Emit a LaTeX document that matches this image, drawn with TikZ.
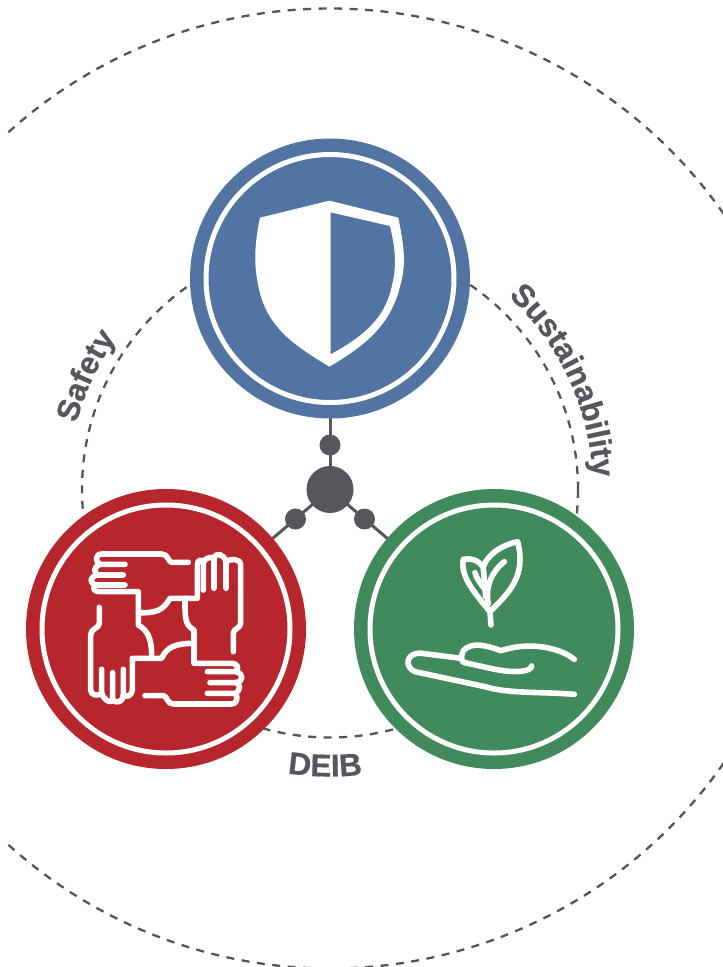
\documentclass[tikz,border=0pt]{standalone}
\usepackage{fontspec}
\setmainfont{Liberation Sans}[BoldFeatures={FakeBold=0.5}]
\usetikzlibrary{decorations.text}
\definecolor{bluec}{HTML}{5274A3}
\definecolor{redc}{HTML}{B8262D}
\definecolor{greenc}{HTML}{418A5C}
\definecolor{greyc}{HTML}{56565C}
\definecolor{dashc}{HTML}{555558}
\newcommand{\lblfont}{\fontsize{31.5}{32}\selectfont\bfseries\color{greyc}}
\tikzset{
  dashring/.style={draw=dashc,line width=2.3pt,dash pattern=on 8pt off 7.5pt},
  disc/.style={circle,minimum size=280pt,inner sep=0pt,outer sep=0pt},
  ringw/.style={draw=white,line width=5pt},
  hubdot/.style={circle,fill=greyc,inner sep=0pt,outer sep=0pt},
  link/.style={draw=greyc,line width=3pt},
  icon/.style={draw=white,line width=5.6pt,line cap=round,line join=round},
  lbl/.style={decorate,decoration={text along path,text align=center,text={#1}}}
}
\begin{document}
\begin{tikzpicture}[x=1pt,y=1pt]
\useasboundingbox (0,-967) rectangle (723,0);
\fill[white] (0,-967) rectangle (723,0);
\coordinate (c) at (330,-489.5);
\coordinate (co) at (330,-488.5);
% outer dashed circle
\draw[dashring] (co) ++(34.9:480) arc[start angle=34.9,end angle=132.5,radius=480];
\draw[dashring] (co) ++(-34.9:480) arc[start angle=-34.9,end angle=-132.5,radius=480];
% inner dashed circle
\draw[dashring] (c) circle[radius=248];
% nodes
\node[hubdot,minimum size=47pt] (hub) at (c) {};
\node[hubdot,minimum size=21pt] (d1) at (330,-445) {};
\node[hubdot,minimum size=21pt] (d2) at (295.5,-519) {};
\node[hubdot,minimum size=21pt] (d3) at (364.5,-519) {};
% connectors
\path (166,-629) coordinate (redc0) (494,-629) coordinate (greenc0) (330,-278.5) coordinate (bluec0);
\draw[link] (hub.center) -- (d1.center) -- (bluec0);
\draw[link] (hub.center) -- (d2.center) -- (redc0);
\draw[link] (hub.center) -- (d3.center) -- (greenc0);
\node[disc,fill=bluec] (blue) at (bluec0) {};
\node[disc,fill=redc] (red) at (redc0) {};
\node[disc,fill=greenc] (green) at (greenc0) {};
\draw[ringw] (blue) circle[radius=124];
\draw[ringw] (red) circle[radius=124];
\draw[ringw] (green) circle[radius=124];
% shield
\begin{scope}[shift={(240,-190)},x=0.3333pt,y=-0.3333pt]
\fill[white,even odd rule] (268,32) -- (475,83) .. controls (492,170) and (500,220) .. (480,290) .. controls (450,410) and (370,470) .. (268,530) .. controls (170,470) and (90,420) .. (60,310) .. controls (40,230) and (42,170) .. (60,83) -- cycle
 (272,67) -- (450,108) .. controls (470,190) and (470,240) .. (450,310) .. controls (425,395) and (360,445) .. (272,493) -- cycle;
\end{scope}
% four hands
\begin{scope}[shift={(70,-530)},x=0.3333pt,y=-0.3333pt]
% top-left
\draw[icon] (355,97) -- (305,97) .. controls (295,97) and (295,72) .. (275,72) -- (95,72) .. controls (75,72) and (75,95) .. (90,103) -- (165,103);
\draw[icon] (90,103) .. controls (70,110) and (70,130) .. (85,135) -- (160,135);
\draw[icon] (85,135) .. controls (58,138) and (55,160) .. (80,165) -- (165,165);
\draw[icon] (80,165) .. controls (65,172) and (70,185) .. (90,185) -- (205,185) -- (205,285) .. controls (230,300) and (245,320) .. (245,378);
% top-right
\draw[icon] (490,365) -- (490,310) .. controls (490,295) and (512,295) .. (512,280) -- (512,105) .. controls (512,85) and (480,85) .. (468,95) -- (468,175);
\draw[icon] (468,95) .. controls (462,72) and (438,65) .. (432,85) -- (432,175);
\draw[icon] (432,85) .. controls (425,78) and (403,85) .. (400,97) -- (400,180);
\draw[icon] (400,97) .. controls (395,85) and (382,90) .. (382,105) -- (382,205) -- (300,205) .. controls (280,240) and (260,250) .. (205,248);
% bottom-right
\draw[icon] (225,497) -- (280,497) .. controls (292,497) and (290,522) .. (310,522) -- (485,522) .. controls (500,522) and (505,505) .. (497,490) -- (412,490);
\draw[icon] (497,490) .. controls (515,475) and (510,462) .. (497,458) -- (420,458);
\draw[icon] (497,458) .. controls (522,455) and (522,430) .. (497,425) -- (412,425);
\draw[icon] (497,425) .. controls (510,412) and (500,400) .. (485,400) -- (372,400) -- (372,300) .. controls (345,285) and (345,265) .. (345,205);
% bottom-left
\draw[icon] (88,232) -- (88,280) .. controls (88,295) and (62,295) .. (62,315) -- (62,480) .. controls (62,498) and (85,498) .. (95,490) -- (95,418);
\draw[icon] (95,490) .. controls (105,515) and (125,520) .. (128,510) -- (128,428);
\draw[icon] (128,510) .. controls (140,522) and (160,515) .. (160,495) -- (160,418);
\draw[icon] (160,495) .. controls (170,505) and (187,495) .. (187,480) -- (187,385) -- (275,385) .. controls (290,350) and (320,340) .. (372,340);
\end{scope}
% plant
\begin{scope}[shift={(395,-530)},x=0.3333pt,y=-0.3333pt]
\draw[icon] (538,388) .. controls (490,350) and (400,335) .. (318,362) .. controls (270,345) and (230,335) .. (205,362) .. controls (198,375) and (198,392) .. (205,397) -- (300,418) .. controls (360,430) and (410,425) .. (410,408);
\draw[icon] (198,385) -- (80,370) .. controls (35,365) and (25,410) .. (60,425) -- (270,470) .. controls (340,492) and (450,485) .. (538,493);
\draw[icon] (288,285) -- (285,245) .. controls (340,190) and (395,140) .. (368,35) .. controls (300,50) and (270,90) .. (265,112) .. controls (245,85) and (225,85) .. (205,88) .. controls (195,140) and (240,190) .. (285,245);
\draw[icon] (280,222) .. controls (270,170) and (290,125) .. (328,95);
\draw[icon] (272,200) .. controls (270,170) and (265,120) .. (265,112);
\draw[icon] (240,128) .. controls (245,145) and (255,160) .. (268,175);
\end{scope}
% labels
\path[lbl={|\lblfont|Safety}] (c) ++(170:262) arc[start angle=170,end angle=140,radius=262];
\path[lbl={|\lblfont|Sustainability}] (c) ++(56:263) arc[start angle=56,end angle=-6,radius=263];
\path[lbl={|\lblfont|DEIB}] (c) ++(260:287) arc[start angle=260,end angle=278,radius=287];
\end{tikzpicture}
\end{document}
